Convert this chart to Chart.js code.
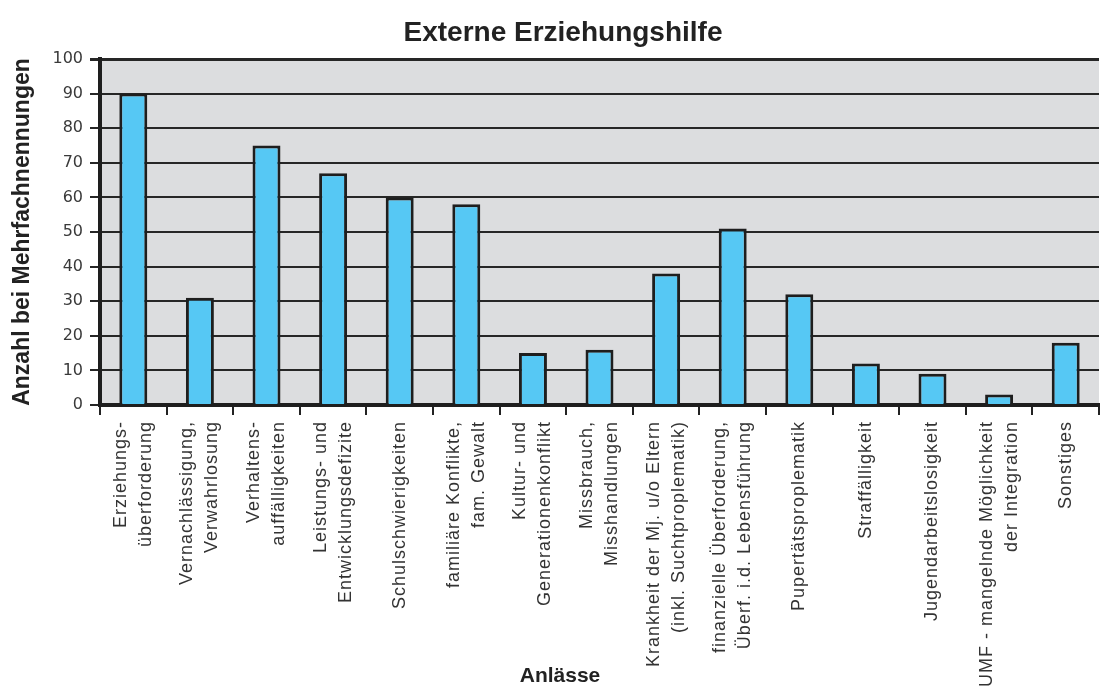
<!DOCTYPE html>
<html lang="de">
<head>
<meta charset="utf-8">
<title>Externe Erziehungshilfe</title>
<script src="https://cdn.jsdelivr.net/npm/chart.js@4.4.1/dist/chart.umd.min.js"></script>
<style>
  html, body { margin: 0; padding: 0; background: #ffffff; }
  #wrap { position: relative; width: 1101px; height: 689px; }
</style>
</head>
<body>
<div id="wrap"><canvas id="anlaesseChart"></canvas></div>
<script>
// Daten
const chartTitle = 'Externe Erziehungshilfe';
const xTitle = 'Anlässe';
const yTitle = 'Anzahl bei Mehrfachnennungen';

const categories = [
    ['Erziehungs-', 'überforderung'],
    ['Vernachlässigung,', 'Verwahrlosung'],
    ['Verhaltens-', 'auffälligkeiten'],
    ['Leistungs- und', 'Entwicklungsdefizite'],
    'Schulschwierigkeiten',
    ['familiäre Konflikte,', 'fam. Gewalt'],
    ['Kultur- und', 'Generationenkonflikt'],
    ['Missbrauch,', 'Misshandlungen'],
    ['Krankheit der Mj. u/o Eltern', '(inkl. Suchtproplematik)'],
    ['finanzielle Überforderung,', 'Überf. i.d. Lebensführung'],
    'Pupertätsproplematik',
    'Straffälligkeit',
    'Jugendarbeitslosigkeit',
    ['UMF - mangelnde Möglichkeit', 'der Integration'],
    'Sonstiges',
];

const nennungen = [90, 31, 75, 67, 60, 58, 15, 16, 38, 51, 32, 12, 9, 3, 18];

const yMin = 0;
const yMax = 100;
const yStep = 10;

// grauer Hintergrund der Zeichenfläche
const plotBackground = {
    id: 'plotBackground',
    beforeDraw(chart) {
        const { ctx, chartArea: a } = chart;
        ctx.save();
        ctx.fillStyle = '#dcdddf';
        ctx.fillRect(a.left, a.top, a.right - a.left, a.bottom - a.top);
        ctx.restore();
    },
};

// Titel, Achsentitel unten und senkrechte Kategorien-Beschriftung
const textLayer = {
    id: 'textLayer',
    afterDraw(chart) {
        const { ctx } = chart;
        const xScale = chart.scales.x;
        ctx.save();
        ctx.fillStyle = '#222222';
        ctx.textAlign = 'center';
        ctx.textBaseline = 'alphabetic';
        ctx.font = 'bold 28px "Liberation Sans", Arial, sans-serif';
        ctx.fillText(chartTitle, 563, 41);
        ctx.font = 'bold 21px "Liberation Sans", Arial, sans-serif';
        ctx.fillText(xTitle, 560, 682);

        ctx.font = '18px "Liberation Sans", Arial, sans-serif';
        ctx.letterSpacing = '1px';
        ctx.fillStyle = '#333333';
        ctx.textAlign = 'right';
        ctx.textBaseline = 'middle';
        chart.data.labels.forEach((label, i) => {
            const lines = Array.isArray(label) ? label : [label];
            const cx = xScale.getPixelForValue(i);
            lines.forEach((line, j) => {
                ctx.save();
                ctx.translate(cx + (j - (lines.length - 1) / 2) * 25, xScale.top + 16);
                ctx.rotate(-Math.PI / 2);
                ctx.fillText(line, 0, 0);
                ctx.restore();
            });
        });
        ctx.restore();
    },
};

new Chart(document.getElementById('anlaesseChart'), {
    type: 'bar',
    data: {
        labels: categories,
        datasets: [{
            label: yTitle,
            data: nennungen,
            backgroundColor: '#56c8f4',
            borderColor: '#1e1e1e',
            borderWidth: 3,
            barPercentage: 0.42,
            categoryPercentage: 1,
        }],
    },
    options: {
        responsive: true,
        maintainAspectRatio: false,
        animation: false,
        layout: { padding: { top: 59, right: 2, bottom: 0, left: 0 } },
        plugins: {
            legend: { display: false },
            tooltip: { enabled: false },
        },
        scales: {
            x: {
                offset: true,
                grid: {
                    offset: true,
                    drawOnChartArea: false,
                    drawTicks: true,
                    tickLength: 10,
                    color: '#222222',
                    lineWidth: 2,
                },
                border: { color: '#1e1e1e', width: 4 },
                ticks: { display: false },
                afterFit: (scale) => { scale.height = 284; },
            },
            y: {
                min: yMin,
                max: yMax,
                ticks: {
                    stepSize: yStep,
                    padding: 7,
                    color: '#3a3a3a',
                    font: { family: '"DejaVu Sans", sans-serif', size: 16 },
                },
                grid: {
                    color: '#262626',
                    lineWidth: (c) => (c.tick && c.tick.value === yMax ? 3 : 2),
                    tickLength: 10,
                },
                border: { color: '#1e1e1e', width: 4 },
                title: {
                    display: true,
                    text: yTitle,
                    color: '#222222',
                    padding: { top: 9, bottom: 0 },
                    font: { family: '"Liberation Sans", Arial, sans-serif', size: 23, weight: 'bold' },
                },
                afterFit: (scale) => { scale.width = 100; },
            },
        },
    },
    plugins: [plotBackground, textLayer],
});
</script>
</body>
</html>
